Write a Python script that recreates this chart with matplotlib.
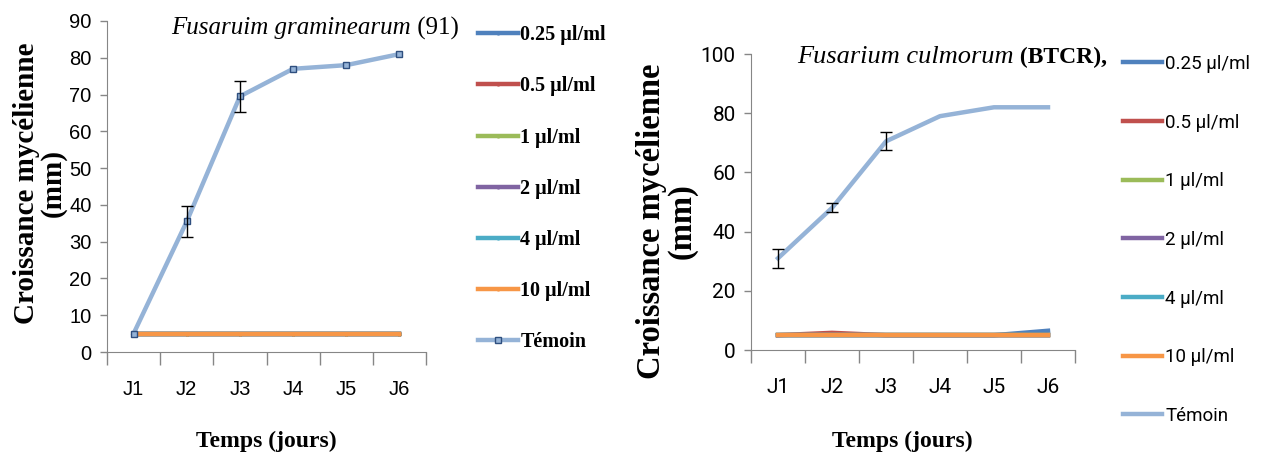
import numpy as np
import matplotlib
matplotlib.use("Agg")
import matplotlib.pyplot as plt

# données
jours = ["J1", "J2", "J3", "J4", "J5", "J6"]
doses = ["0.25 µl/ml", "0.5 µl/ml", "1 µl/ml", "2 µl/ml", "4 µl/ml", "10 µl/ml", "Témoin"]
couleurs = ["#4F81BD", "#C0504D", "#9BBB59", "#8064A2", "#4BACC6", "#F79646", "#95B3D7"]

# Fusarium graminearum (91)
gram_025 = [5, 5, 5, 5, 5, 5]
gram_05 = [5, 5, 5, 5, 5, 5]
gram_1 = [5, 5, 5, 5, 5, 5]
gram_2 = [5, 5, 5, 5, 5, 5]
gram_4 = [5, 5, 5, 5, 5, 5]
gram_10 = [5, 5, 5, 5, 5, 5]
gram_temoin = [5, 35.5, 69.5, 77, 78, 81]
gram_err = [0, 4.2, 4.2, 0, 0, 0]

# Fusarium culmorum (BTCR)
culm_025 = [5, 5, 5, 5, 5, 6.5]
culm_05 = [5, 5.8, 5, 5, 5, 5]
culm_1 = [5, 5, 5, 5, 5, 5]
culm_2 = [5, 5, 5, 5, 5, 5]
culm_4 = [5, 5, 5, 5, 5, 5]
culm_10 = [5, 5, 5, 5, 5, 5]
culm_temoin = [31, 48, 70.5, 79, 82, 82]
culm_err = [3.2, 1.5, 3.0, 0, 0, 0]

W, H = 1266, 459
fig = plt.figure(figsize=(W / 100, H / 100), dpi=100)

def box(x0, x1, ytop, ybot):
    return [x0 / W, (H - ybot) / H, (x1 - x0) / W, (ybot - ytop) / H]

serif = "Liberation Serif"
sans = "Liberation Sans"
narrow = ["Roboto", "DejaVu Sans"]

def tracer(ax, series, err, ymax, ystep, tickfont, taille, marqueurs):
    x = np.arange(len(jours))
    for i, (vals, c) in enumerate(zip(series, couleurs)):
        if i == 6:
            ax.plot(x, vals, color=c, lw=3.2, label=doses[i], zorder=5,
                    marker="s" if marqueurs else None, ms=4.5, mfc=c, mec="#2F4F7F", mew=1)
            e = np.array(err, dtype=float)
            m = e > 0
            ax.errorbar(x[m], np.array(vals)[m], yerr=e[m], fmt="none", ecolor="black",
                        elinewidth=1, capsize=4, capthick=1, zorder=6)
        else:
            ax.plot(x, vals, color=c, lw=3.2, label=doses[i], zorder=3 + i * 0.1,
                    marker="." if marqueurs else None, ms=4)
    ax.set_xlim(-0.5, len(jours) - 0.5)
    ax.set_ylim(0, ymax)
    ax.set_yticks(np.arange(0, ymax + 1, ystep))
    ax.set_xticks(np.arange(-0.5, len(jours), 1))
    ax.set_xticks(x, minor=True)
    ax.set_xticklabels([])
    ax.set_xticklabels(jours, minor=True)
    ax.tick_params(axis="x", which="major", length=9, color="#868686", width=1)
    ax.tick_params(axis="x", which="minor", length=0, pad=20)
    ax.tick_params(axis="y", length=5, color="#868686", width=1, pad=6)
    for s in ["top", "right"]:
        ax.spines[s].set_visible(False)
    for s in ["left", "bottom"]:
        ax.spines[s].set_color("#868686")
    for lab in ax.get_xticklabels(minor=True) + ax.get_yticklabels():
        lab.set_family(tickfont)
        lab.set_fontsize(taille)

# graphique de gauche
ax1 = fig.add_axes(box(107, 426, 21, 352))
tracer(ax1, [gram_025, gram_05, gram_1, gram_2, gram_4, gram_10, gram_temoin],
       gram_err, 90, 10, sans, 14.5, True)
t1 = fig.text(171 / W, 1 - 28 / H, "Fusaruim graminearum", family=serif, style="italic",
              fontsize=18, va="center", ha="left")
ax1.annotate(" (91)", xy=(1, 0.5), xycoords=t1, va="center", ha="left",
             family=serif, fontsize=18)
fig.text(40 / W, 1 - 183 / H, "Croissance mycélienne\n(mm)", rotation=90, family=serif,
         weight="bold", fontsize=21, ha="center", va="center", multialignment="center",
         linespacing=1.0)
fig.text(266 / W, 1 - 441 / H, "Temps (jours)", family=serif, weight="bold", fontsize=17,
         ha="center", va="center")
leg1 = ax1.legend(loc="upper left", bbox_to_anchor=(460 / W, 1 - 7 / H),
                  bbox_transform=fig.transFigure, frameon=False, handlelength=2.0,
                  handletextpad=0.1, labelspacing=1.55,
                  prop={"family": serif, "weight": "bold", "size": 14.5})

# graphique de droite
ax2 = fig.add_axes(box(751, 1075, 54, 350))
tracer(ax2, [culm_025, culm_05, culm_1, culm_2, culm_4, culm_10, culm_temoin],
       culm_err, 100, 20, narrow, 15, False)
t2 = fig.text(797 / W, 1 - 57 / H, "Fusarium culmorum", family=serif, style="italic",
              fontsize=19, va="center", ha="left")
ax2.annotate(" (BTCR),", xy=(1, 0.5), xycoords=t2, va="center", ha="left",
             family=serif, weight="bold", fontsize=17)
fig.text(667 / W, 1 - 221 / H, "Croissance mycélienne\n(mm)", rotation=90, family=serif,
         weight="bold", fontsize=23.5, ha="center", va="center", multialignment="center",
         linespacing=0.95)
fig.text(902 / W, 1 - 441 / H, "Temps (jours)", family=serif, weight="bold", fontsize=17,
         ha="center", va="center")
leg2 = ax2.legend(loc="upper left", bbox_to_anchor=(1106 / W, 1 - 38 / H),
                  bbox_transform=fig.transFigure, frameon=False, handlelength=2.1,
                  handletextpad=0.15, labelspacing=2.17,
                  prop={"family": narrow, "size": 13.5})

fig.savefig("out.png", dpi=100)
